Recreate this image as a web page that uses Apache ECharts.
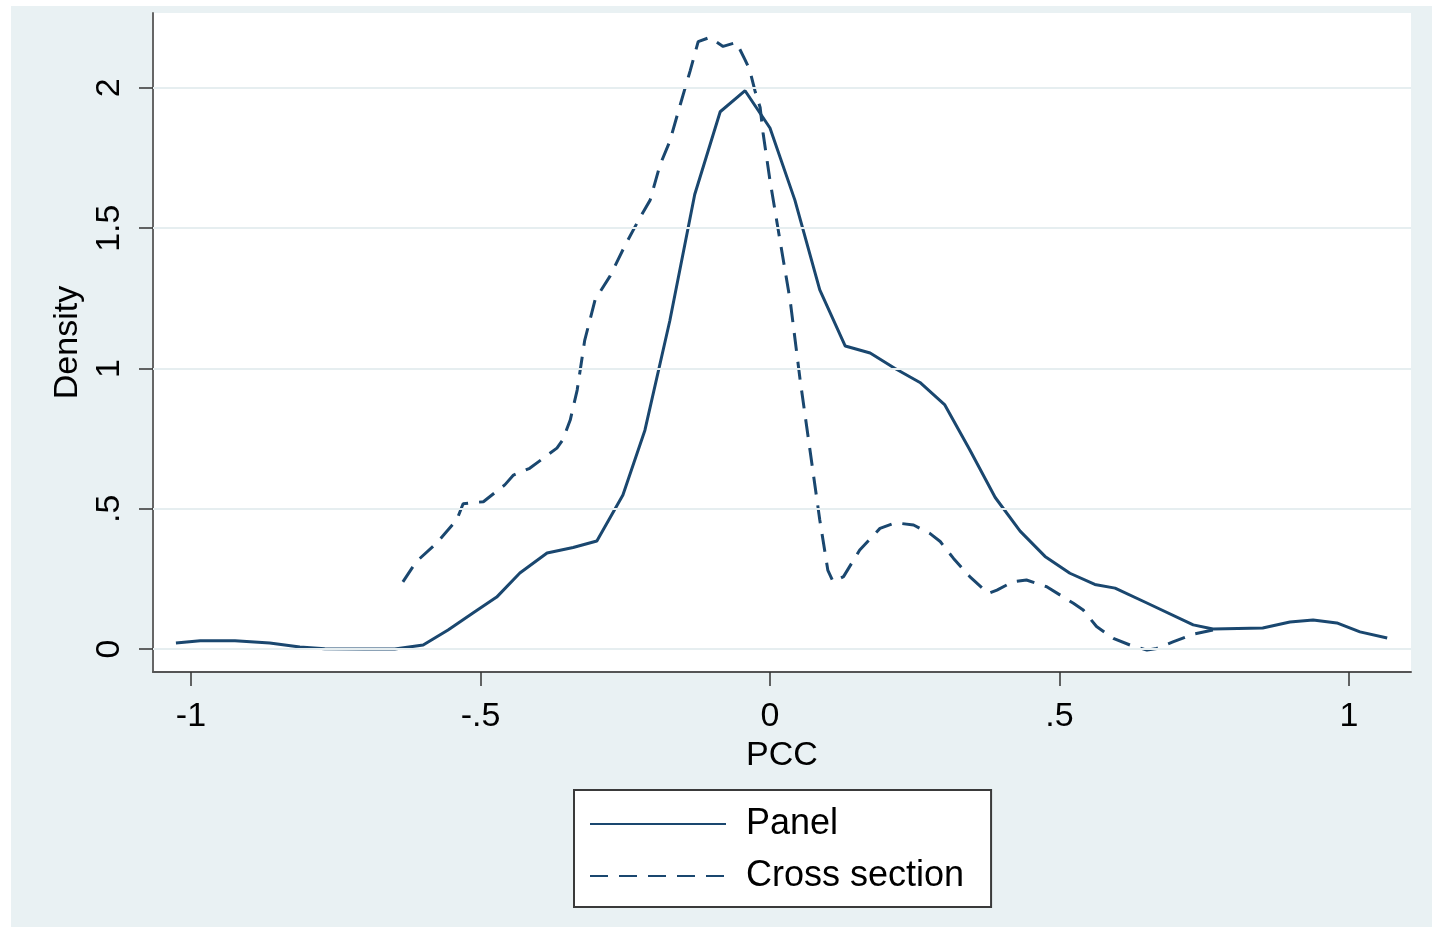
<!DOCTYPE html>
<html>
<head>
<meta charset="utf-8">
<title>Density of PCC</title>
<script src="https://cdn.jsdelivr.net/npm/echarts@6/dist/echarts.min.js"></script>
<style>
  html, body { margin: 0; padding: 0; background: #ffffff; }
  #frame { position: absolute; left: 11px; top: 6px; width: 1421px; height: 921px; background: #e9f1f3; }
  #chart { position: absolute; left: 0; top: 0; width: 1432px; height: 927px; }
</style>
</head>
<body>
<div id="frame"></div>
<div id="chart"></div>
<script>
// Kernel density estimates of PCC, panel vs. cross-section samples
const panelX = [-1.026, -0.984, -0.924, -0.864, -0.812, -0.769, -0.700, -0.648, -0.599, -0.556,
  -0.513, -0.472, -0.432, -0.385, -0.340, -0.299, -0.254, -0.216, -0.173, -0.130,
  -0.086, -0.043, 0.000, 0.043, 0.086, 0.130, 0.173, 0.216, 0.259, 0.302,
  0.345, 0.389, 0.432, 0.475, 0.518, 0.561, 0.596, 0.651, 0.731, 0.765,
  0.851, 0.898, 0.938, 0.979, 1.019, 1.066];
const panelY = [0.021, 0.029, 0.029, 0.021, 0.007, 0.001, 0.000, 0.000, 0.014, 0.068,
  0.128, 0.185, 0.271, 0.342, 0.362, 0.385, 0.549, 0.780, 1.170, 1.620,
  1.915, 1.990, 1.857, 1.600, 1.280, 1.080, 1.055, 1.000, 0.950, 0.870,
  0.710, 0.540, 0.420, 0.330, 0.270, 0.230, 0.217, 0.164, 0.086, 0.071,
  0.075, 0.096, 0.103, 0.093, 0.061, 0.039];

const crossX = [-0.634, -0.611, -0.576, -0.541, -0.530, -0.495, -0.458, -0.443, -0.415, -0.368,
  -0.358, -0.345, -0.333, -0.320, -0.302, -0.276, -0.250, -0.225, -0.207, -0.190,
  -0.173, -0.155, -0.138, -0.124, -0.104, -0.081, -0.058, -0.043, -0.035, -0.026,
  -0.017, -0.012, 0.000, 0.017, 0.035, 0.052, 0.069, 0.086, 0.100, 0.109,
  0.127, 0.155, 0.190, 0.216, 0.248, 0.276, 0.294, 0.317, 0.345, 0.377,
  0.392, 0.420, 0.443, 0.478, 0.524, 0.541, 0.564, 0.593, 0.622, 0.651,
  0.668, 0.697, 0.731, 0.766];
const crossY = [0.239, 0.311, 0.377, 0.460, 0.518, 0.525, 0.585, 0.620, 0.644, 0.716,
  0.745, 0.816, 0.923, 1.100, 1.245, 1.330, 1.440, 1.536, 1.600, 1.725,
  1.810, 1.940, 2.060, 2.165, 2.180, 2.148, 2.162, 2.100, 2.064, 1.990,
  1.930, 1.840, 1.670, 1.460, 1.240, 0.960, 0.710, 0.460, 0.280, 0.240,
  0.258, 0.353, 0.430, 0.450, 0.442, 0.412, 0.383, 0.323, 0.258, 0.198,
  0.210, 0.240, 0.246, 0.222, 0.163, 0.139, 0.080, 0.038, 0.014, -0.004,
  0.002, 0.026, 0.053, 0.068];

const xTicks = [-1, -0.5, 0, 0.5, 1];
const xTickLabels = ['-1', '-.5', '0', '.5', '1'];
const yTicks = [0, 0.5, 1, 1.5, 2];
const yTickLabels = ['0', '.5', '1', '1.5', '2'];

const seriesNames = ['Panel', 'Cross section'];

const LINE = '#1a476f';
const FONT = 'Liberation Sans, Arial, Helvetica, sans-serif';

function pairs(xs, ys) { return xs.map((x, i) => [x, ys[i]]); }
function tickText(values, labels) {
  return v => {
    const i = values.findIndex(t => Math.abs(t - v) < 1e-9);
    return i >= 0 ? labels[i] : '';
  };
}

const chart = echarts.init(document.getElementById('chart'), null, { renderer: 'canvas' });

chart.setOption({
  animation: false,
  backgroundColor: 'transparent',
  textStyle: { fontFamily: FONT },
  grid: {
    left: 153, right: 21, top: 13, bottom: 255,
    show: true, backgroundColor: '#ffffff', borderWidth: 0
  },
  xAxis: {
    type: 'value',
    min: -1.0656, max: 1.1071,
    name: 'PCC',
    nameLocation: 'middle',
    nameGap: 64,
    nameTextStyle: { color: '#000', fontSize: 34, fontFamily: FONT },
    axisLine: { show: true, onZero: false, lineStyle: { color: '#555', width: 2 } },
    axisTick: { show: true, customValues: xTicks, length: 14, lineStyle: { color: '#333', width: 1.5 } },
    axisLabel: {
      customValues: xTicks, formatter: tickText(xTicks, xTickLabels),
      color: '#000', fontSize: 34, fontFamily: FONT, margin: 28
    },
    splitLine: { show: false }
  },
  yAxis: {
    type: 'value',
    min: -0.082, max: 2.267,
    name: 'Density',
    nameLocation: 'middle',
    nameRotate: 90,
    nameGap: 60,
    nameTextStyle: { color: '#000', fontSize: 34, fontFamily: FONT },
    axisLine: { show: true, onZero: false, lineStyle: { color: '#666', width: 2 } },
    axisTick: { show: true, customValues: yTicks, length: 14, lineStyle: { color: '#333', width: 1.5 } },
    axisLabel: {
      customValues: yTicks, formatter: tickText(yTicks, yTickLabels),
      rotate: 90, color: '#000', fontSize: 34, fontFamily: FONT, margin: 26
    },
    splitLine: { show: false }
  },
  legend: {
    orient: 'vertical',
    left: 574, top: 790,
    data: seriesNames,
    backgroundColor: '#ffffff',
    borderColor: '#3a3a3a',
    borderWidth: 2,
    borderRadius: 0,
    padding: [14, 27, 11, 15],
    itemWidth: 136,
    itemHeight: 14,
    itemGap: 12,
    itemStyle: { opacity: 0 },
    textStyle: { color: '#000', fontSize: 36, fontFamily: FONT, lineHeight: 40, padding: [0, 0, 0, 15] }
  },
  series: [
    {
      name: '_grid',
      type: 'line',
      data: [],
      silent: true,
      z: 1,
      markLine: {
        silent: true,
        symbol: 'none',
        label: { show: false },
        lineStyle: { color: '#e6eef0', width: 2, type: 'solid' },
        data: yTicks.map(v => ({ yAxis: v }))
      }
    },
    {
      name: seriesNames[0],
      type: 'line',
      data: pairs(panelX, panelY),
      showSymbol: false,
      symbol: 'none',
      smooth: false,
      z: 3,
      lineStyle: { color: LINE, width: 3, type: 'solid' },
      itemStyle: { color: LINE }
    },
    {
      name: seriesNames[1],
      type: 'line',
      data: pairs(crossX, crossY),
      showSymbol: false,
      symbol: 'none',
      smooth: false,
      z: 3,
      lineStyle: { color: LINE, width: 3, type: [18, 11] },
      itemStyle: { color: LINE }
    }
  ]
});
</script>
</body>
</html>
